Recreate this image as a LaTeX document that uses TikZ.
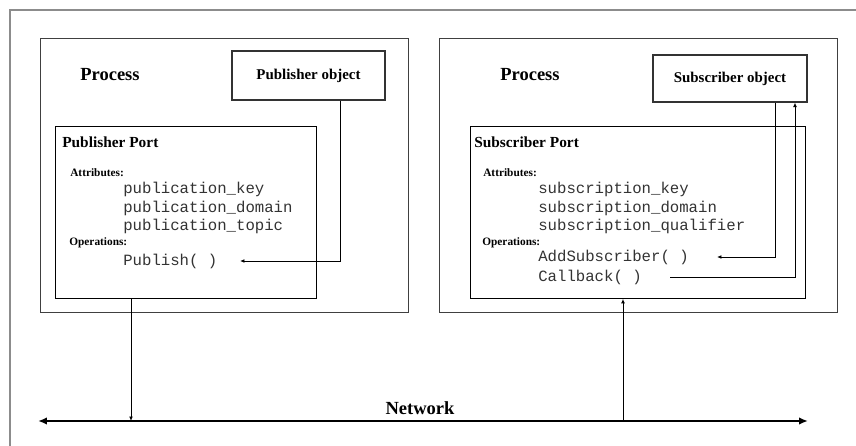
\documentclass[tikz,border=0pt]{standalone}
\usepackage{fontspec}
\setmainfont{Liberation Serif}
\setmonofont{Liberation Mono}
\usetikzlibrary{arrows.meta}

\def\px{0.67pt}
\tikzset{
    procbox/.style={draw=black!75, line width=0.9pt, anchor=north west, inner sep=0pt},
    portbox/.style={draw, line width=0.6pt, anchor=north west, inner sep=0pt},
    objbox/.style={draw=black!80, line width=0.8pt, inner sep=0pt, font=\bfseries\fontsize{10}{12}\selectfont},
    heading/.style={font=\bfseries\fontsize{12.4}{14}\selectfont},
    porttitle/.style={anchor=west, inner sep=0pt, font=\bfseries\fontsize{10.3}{12}\selectfont},
    section/.style={anchor=west, inner sep=0pt, font=\bfseries\fontsize{7.6}{9}\selectfont},
    member/.style={anchor=west, inner sep=0pt, text=black!80, font=\ttfamily\fontsize{10.5}{12}\selectfont},
    sig/.style={line width=0.6pt, -{Latex[length=3pt,width=2.6pt]}}
}

\begin{document}
\begin{tikzpicture}[x=\px, y=-\px]
    \useasboundingbox (0,0) rectangle (856,446);
    % outer frame, cut off at the right and bottom
    \draw[black!45, line width=1.2pt] (10,446) -- (10,10) -- (856,10);

    % publisher side
    \node[procbox, minimum width=368*\px, minimum height=274*\px] (pubproc) at (40,38) {};
    \node[heading] (pubhead) at (110,75) {Process};
    \node[objbox, minimum width=153*\px, minimum height=49*\px] (pubobj) at (308.5,75.5) {Publisher object};
    \node[portbox, minimum width=261*\px, minimum height=172*\px] (pubport) at (55,126) {};
    \node[porttitle] (pubtitle) at (62,142) {Publisher Port};
    \node[section] (pubattr) at (70,173) {Attributes:};
    \foreach \name [count=\i] in {key,domain,topic}
        \node[member] (pub\name) at (123,171+18.5*\i) {publication\_\name};
    \node[section] (pubops) at (69,243) {Operations:};
    \node[member] (publish) at (123,261) {Publish( )};

    % subscriber side
    \node[procbox, minimum width=398*\px, minimum height=274*\px] (subproc) at (439,38) {};
    \node[heading] (subhead) at (530,75) {Process};
    \node[objbox, minimum width=154*\px, minimum height=47*\px] (subobj) at (730,78.5) {Subscriber object};
    \node[portbox, minimum width=335*\px, minimum height=172*\px] (subport) at (470,126) {};
    \node[porttitle] (subtitle) at (474,142) {Subscriber Port};
    \node[section] (subattr) at (483,173) {Attributes:};
    \foreach \name [count=\i] in {key,domain,qualifier}
        \node[member] (sub\name) at (538,171+18.5*\i) {subscription\_\name};
    \node[section] (subops) at (482,243) {Operations:};
    \node[member] (addsub) at (538,257) {AddSubscriber( )};
    \node[member] (callback) at (538,277) {Callback( )};

    % network
    \coordinate (netL) at (38,421);
    \coordinate (netR) at (808,421);
    \draw[line width=2pt, {Latex[length=6pt,width=5pt]}-{Latex[length=6pt,width=5pt]}] (netL) -- (netR);
    \node[heading] (network) at (420,408) {Network};

    % connectors
    \coordinate (pubcorner) at (340,261);
    \coordinate (pubin) at (240,261);
    \draw[sig] (pubcorner |- pubobj.south) -- (pubcorner) -- (pubin);
    \coordinate (addcorner) at (775,257);
    \coordinate (addin) at (717,257);
    \draw[sig] (addcorner |- subobj.south) -- (addcorner) -- (addin);
    \coordinate (cbout) at (670,277);
    \coordinate (cbcorner) at (795,277);
    \draw[sig] (cbout) -- (cbcorner) -- (cbcorner |- subobj.south);
    \coordinate (pubdrop) at (131,421);
    \coordinate (subdrop) at (623,421);
    \draw[sig] (pubdrop |- pubport.south) -- (pubdrop);
    \draw[sig] (subdrop) -- (subdrop |- subport.south);
\end{tikzpicture}
\end{document}
